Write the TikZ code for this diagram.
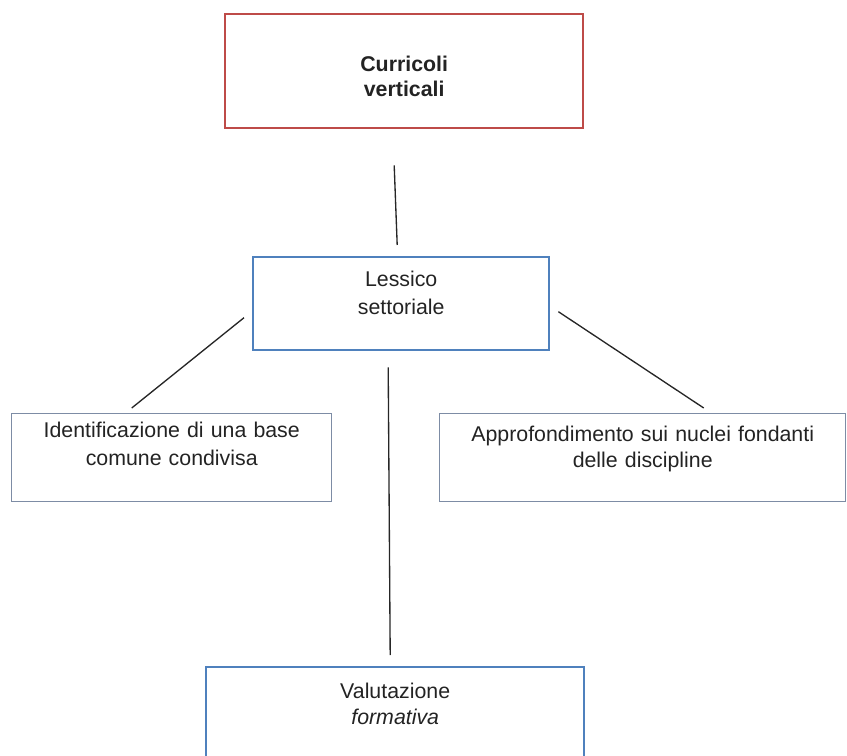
\documentclass[tikz,border=0pt]{standalone}
\usepackage{fontspec}
\setmainfont{Liberation Sans}
\usepackage{tikz}
\usetikzlibrary{positioning}
\definecolor{boxred}{RGB}{190,75,72}
\definecolor{boxblue}{RGB}{79,129,189}
\definecolor{boxgrey}{RGB}{125,140,165}
\definecolor{txt}{RGB}{35,35,35}

\tikzset{
  box/.style={draw, rectangle, anchor=north west, inner sep=0pt, align=center, text=txt},
  link/.style={draw=black!85, line width=1pt},
}

\begin{document}
\begin{tikzpicture}[x=0.75pt, y=-0.75pt]
    \useasboundingbox (0,0) rectangle (847,756);
    \clip (0,0) rectangle (847,756);
    \node[box, draw=boxred, line width=1.8pt, text width=268.5pt, text height=42.75pt, text depth=42.75pt,
          font=\fontsize{16}{18.75}\selectfont\bfseries] (curricoli) at (224,13) {Curricoli\\verticali};
    \node[box, draw=boxblue, line width=1.8pt, text width=222pt, text height=21.75pt, text depth=48pt,
          font=\fontsize{16}{21}\selectfont] (lessico) at (252,256) {Lessico\\settoriale};
    \node[box, draw=boxgrey, line width=1.1pt, text width=240pt, text height=18pt, text depth=48pt,
          font=\fontsize{16}{21}\selectfont] (base) at (11,413) {Identificazione di una base\\comune condivisa};
    \node[box, draw=boxgrey, line width=1.1pt, text width=304.5pt, text height=21pt, text depth=45pt,
          font=\fontsize{16}{19.5}\selectfont] (nuclei) at (439,413) {Approfondimento sui nuclei fondanti\\delle discipline};
    \node[box, draw=boxblue, line width=1.8pt, text width=283.5pt, text height=23.25pt, text depth=51.75pt,
          font=\fontsize{16}{19.5}\selectfont] (valutazione) at (205,666) {Valutazione\\\textit{formativa}};
    \draw[link] ([shift={(-10,36)}]curricoli.south) -- ([shift={(-4,-11)}]lessico.north);
    \draw[link] ([shift={(-8,14)}]lessico.west) -- ([shift={(-40,-5)}]base.north);
    \draw[link] ([shift={(8,8)}]lessico.east) -- ([shift={(61,-5)}]nuclei.north);
    \draw[link] ([shift={(-13,16)}]lessico.south) -- ([shift={(-5,-11)}]valutazione.north);
\end{tikzpicture}
\end{document}
